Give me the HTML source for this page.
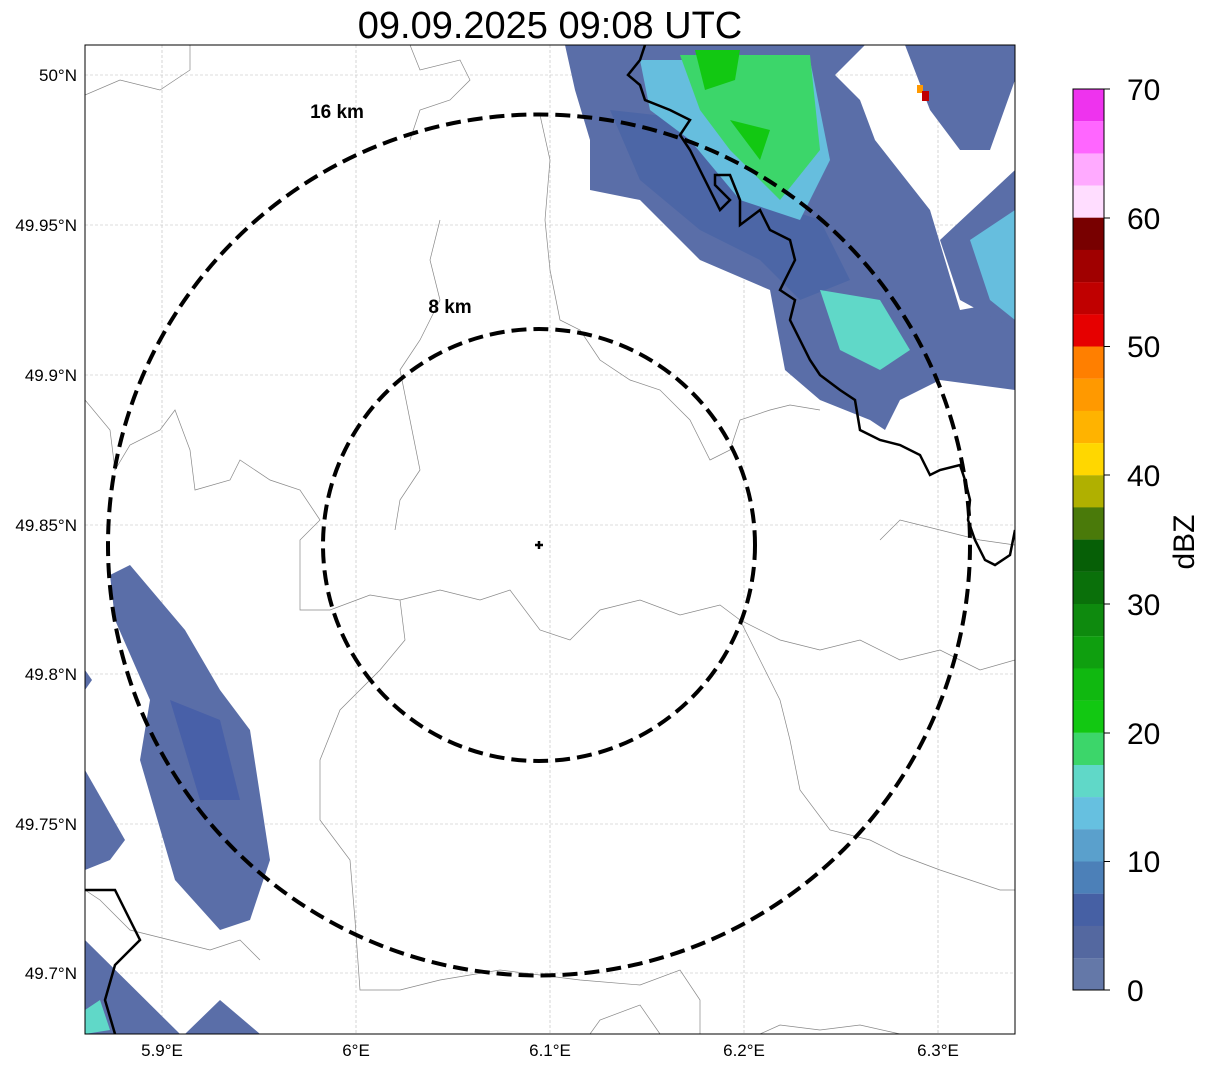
<!DOCTYPE html>
<html><head><meta charset="utf-8"><style>
html,body{margin:0;padding:0;background:#fff;}
svg{display:block;font-family:"Liberation Sans",sans-serif;}
</style></head><body>
<svg width="1207" height="1069" viewBox="0 0 1207 1069" xmlns="http://www.w3.org/2000/svg">
<rect width="1207" height="1069" fill="#fff"/>
<text x="550" y="38" font-size="38" text-anchor="middle">09.09.2025 09:08 UTC</text>
<defs><clipPath id="c"><rect x="85" y="45" width="930" height="989"/></clipPath></defs>
<g clip-path="url(#c)">
<g stroke="#bbb" stroke-width="0.6" stroke-dasharray="3,2">
<line x1="162" y1="45" x2="162" y2="1034"/><line x1="356" y1="45" x2="356" y2="1034"/><line x1="550" y1="45" x2="550" y2="1034"/><line x1="744" y1="45" x2="744" y2="1034"/><line x1="938" y1="45" x2="938" y2="1034"/>
<line x1="85" y1="75" x2="1015" y2="75"/><line x1="85" y1="225" x2="1015" y2="225"/><line x1="85" y1="375" x2="1015" y2="375"/><line x1="85" y1="525" x2="1015" y2="525"/><line x1="85" y1="674" x2="1015" y2="674"/><line x1="85" y1="824" x2="1015" y2="824"/><line x1="85" y1="973" x2="1015" y2="973"/>
</g>
<g fill="none" stroke="#888" stroke-width="0.7">
<path d="M85,95 L120,80 L160,90 L190,70 L190,45"/>
<path d="M85,400 L110,430 L115,470 L130,445 L160,430 L175,410 L190,450 L195,490 L230,480 L240,460 L270,480 L300,490 L320,520 L300,540 L300,610 L330,610 L370,595 L400,600 L440,590 L480,600 L510,590 L540,630 L570,640 L600,610 L640,600 L680,615 L720,605 L740,620 L780,640 L820,650 L860,640 L900,660 L940,650 L980,670 L1015,660"/>
<path d="M400,600 L405,640 L380,670 L340,710 L320,760 L320,820 L350,860 L355,920 L360,990 L400,990 L440,980 L500,970 L540,975 L580,980 L640,985 L680,970 L700,1000 L700,1034"/>
<path d="M740,620 L760,660 L780,700 L790,740 L800,790 L830,830 L870,840 L900,855 L940,870 L970,880 L1000,890 L1015,890"/>
<path d="M440,220 L430,260 L440,300 L420,340 L400,370 L410,420 L420,470 L400,500 L395,530"/>
<path d="M540,115 L550,160 L545,220 L550,270 L560,320 L580,330 L600,360 L630,380 L660,390 L690,420 L710,460 L730,450 L740,420 L770,410 L790,405 L820,410"/>
<path d="M85,890 L100,900 L130,930 L170,940 L210,950 L240,940 L260,960"/>
<path d="M880,540 L900,520 L940,530 L980,540 L1015,545"/>
<path d="M760,1034 L780,1025 L820,1030 L860,1025 L900,1034"/>
<path d="M590,1034 L600,1020 L640,1005 L660,1034"/>
<path d="M410,45 L420,70 L460,60 L470,80 L450,100 L420,110 L410,140"/>
</g>
<g>
<polygon fill="#5a6ea8" points="565,45 865,45 835,75 860,100 875,140 930,210 960,310 1015,300 1015,390 940,380 900,400 885,430 870,420 820,400 785,370 770,290 700,260 640,200 590,190 590,140 575,90"/>
<polygon fill="#4c66a6" points="610,110 700,120 760,200 820,220 850,280 800,300 760,260 700,230 640,180"/>
<polygon fill="#66bede" points="640,60 810,60 830,160 800,220 740,200 690,140 650,110"/>
<polygon fill="#3cd66a" points="680,55 810,55 820,150 780,200 730,150 700,110"/>
<polygon fill="#12c812" points="695,50 740,50 735,80 705,90"/>
<polygon fill="#12c812" points="730,120 770,130 760,160"/>
<polygon fill="#60d8c8" points="820,290 880,300 910,350 880,370 840,350"/>
<polygon fill="#5a6ea8" points="905,45 1015,45 1015,80 990,150 960,150 930,110"/>
<polygon fill="#5a6ea8" points="940,240 1015,170 1015,330 960,300"/>
<polygon fill="#66bede" points="970,240 1015,210 1015,320 990,300"/>
<rect x="917" y="85" width="6" height="8" fill="#ff9900"/><rect x="922" y="91" width="7" height="10" fill="#c00000"/>
</g>
<g fill="#5a6ea8">
<polygon points="110,575 130,565 185,630 220,690 250,730 270,860 250,920 220,930 175,880 140,760 150,700 115,620"/>
<polygon points="85,770 125,840 110,860 85,870"/>
<polygon points="85,940 180,1034 85,1034"/>
<polygon points="185,1034 220,1000 260,1034"/>
<polygon points="85,670 92,680 85,690"/>
</g>
<polygon fill="#4860a8" points="170,700 220,720 240,800 200,800"/>
<polygon fill="#60d8c8" points="85,1010 100,1000 110,1030 85,1034"/>
<g fill="none" stroke="#000" stroke-width="2.5">
<path d="M645,45 L640,60 L628,75 L640,85 L645,100 L670,110 L690,120 L680,135 L690,150 L700,170 L710,190 L720,210 L730,200 L715,185 L715,175 L730,175 L740,200 L740,225 L760,210 L770,230 L790,240 L795,260 L790,270 L780,290 L795,300 L790,320 L800,340 L810,360 L820,375 L840,390 L855,400 L860,430 L880,440 L900,445 L920,455 L930,475 L940,470 L960,465 L965,480 L970,500 L968,520 L975,540 L985,560 L995,565 L1010,555 L1015,530"/>
<path d="M85,890 L115,890 L140,940 L115,965 L105,1000 L115,1034"/>
</g>
<g fill="none" stroke="#000" stroke-width="4" stroke-dasharray="15,7">
<ellipse cx="539" cy="545" rx="431" ry="430.5"/>
<ellipse cx="539" cy="545" rx="216" ry="216"/>
</g>
<path d="M535,545 H543 M539,541 V549" stroke="#000" stroke-width="2.5"/>
<text x="337" y="118" font-size="19" font-weight="bold" text-anchor="middle">16 km</text>
<text x="450" y="313" font-size="19" font-weight="bold" text-anchor="middle">8 km</text>
</g>
<rect x="85" y="45" width="930" height="989" fill="none" stroke="#000" stroke-width="1"/>
<g font-size="17" text-anchor="middle">
<text x="162" y="1056">5.9°E</text><text x="356" y="1056">6°E</text><text x="550" y="1056">6.1°E</text><text x="744" y="1056">6.2°E</text><text x="938" y="1056">6.3°E</text>
</g>
<g font-size="17" text-anchor="end">
<text x="77" y="81">50°N</text><text x="77" y="231">49.95°N</text><text x="77" y="381">49.9°N</text><text x="77" y="531">49.85°N</text><text x="77" y="680">49.8°N</text><text x="77" y="830">49.75°N</text><text x="77" y="979">49.7°N</text>
</g>
<g>
<rect x="1073" y="89.0" width="31" height="32.3" fill="#ee33ee"/>
<rect x="1073" y="121.2" width="31" height="32.3" fill="#ff66ff"/>
<rect x="1073" y="153.4" width="31" height="32.3" fill="#ffaaff"/>
<rect x="1073" y="185.6" width="31" height="32.3" fill="#ffddff"/>
<rect x="1073" y="217.7" width="31" height="32.3" fill="#780000"/>
<rect x="1073" y="249.9" width="31" height="32.3" fill="#a00000"/>
<rect x="1073" y="282.1" width="31" height="32.3" fill="#c00000"/>
<rect x="1073" y="314.3" width="31" height="32.3" fill="#e60000"/>
<rect x="1073" y="346.5" width="31" height="32.3" fill="#ff7f00"/>
<rect x="1073" y="378.7" width="31" height="32.3" fill="#ff9900"/>
<rect x="1073" y="410.9" width="31" height="32.3" fill="#ffb300"/>
<rect x="1073" y="443.1" width="31" height="32.3" fill="#ffd700"/>
<rect x="1073" y="475.3" width="31" height="32.3" fill="#b0b000"/>
<rect x="1073" y="507.4" width="31" height="32.3" fill="#4a7a0a"/>
<rect x="1073" y="539.6" width="31" height="32.3" fill="#065f06"/>
<rect x="1073" y="571.8" width="31" height="32.3" fill="#0a700a"/>
<rect x="1073" y="604.0" width="31" height="32.3" fill="#0e8a0e"/>
<rect x="1073" y="636.2" width="31" height="32.3" fill="#0f9f0f"/>
<rect x="1073" y="668.4" width="31" height="32.3" fill="#10b810"/>
<rect x="1073" y="700.6" width="31" height="32.3" fill="#12c812"/>
<rect x="1073" y="732.8" width="31" height="32.3" fill="#3cd66a"/>
<rect x="1073" y="765.0" width="31" height="32.3" fill="#60d8c8"/>
<rect x="1073" y="797.1" width="31" height="32.3" fill="#66c0e0"/>
<rect x="1073" y="829.3" width="31" height="32.3" fill="#5aa0cc"/>
<rect x="1073" y="861.5" width="31" height="32.3" fill="#4c80b8"/>
<rect x="1073" y="893.7" width="31" height="32.3" fill="#4660a4"/>
<rect x="1073" y="925.9" width="31" height="32.3" fill="#5468a0"/>
<rect x="1073" y="958.1" width="31" height="32" fill="#6478a8"/>
<rect x="1073" y="89" width="31" height="901" fill="none" stroke="#000" stroke-width="1"/>
<g stroke="#000" stroke-width="1"><line x1="1104" y1="89" x2="1110" y2="89"/><line x1="1104" y1="218" x2="1110" y2="218"/><line x1="1104" y1="346.5" x2="1110" y2="346.5"/><line x1="1104" y1="475" x2="1110" y2="475"/><line x1="1104" y1="604" x2="1110" y2="604"/><line x1="1104" y1="733" x2="1110" y2="733"/><line x1="1104" y1="861.5" x2="1110" y2="861.5"/><line x1="1104" y1="990" x2="1110" y2="990"/></g>
<g font-size="30">
<text x="1127" y="100">70</text><text x="1127" y="229">60</text><text x="1127" y="357">50</text><text x="1127" y="486">40</text><text x="1127" y="615">30</text><text x="1127" y="744">20</text><text x="1127" y="872">10</text><text x="1127" y="1001">0</text>
</g>
<text x="1194" y="542" font-size="30" text-anchor="middle" transform="rotate(-90 1194 542)">dBZ</text>
</g>
</svg>
</body></html>
